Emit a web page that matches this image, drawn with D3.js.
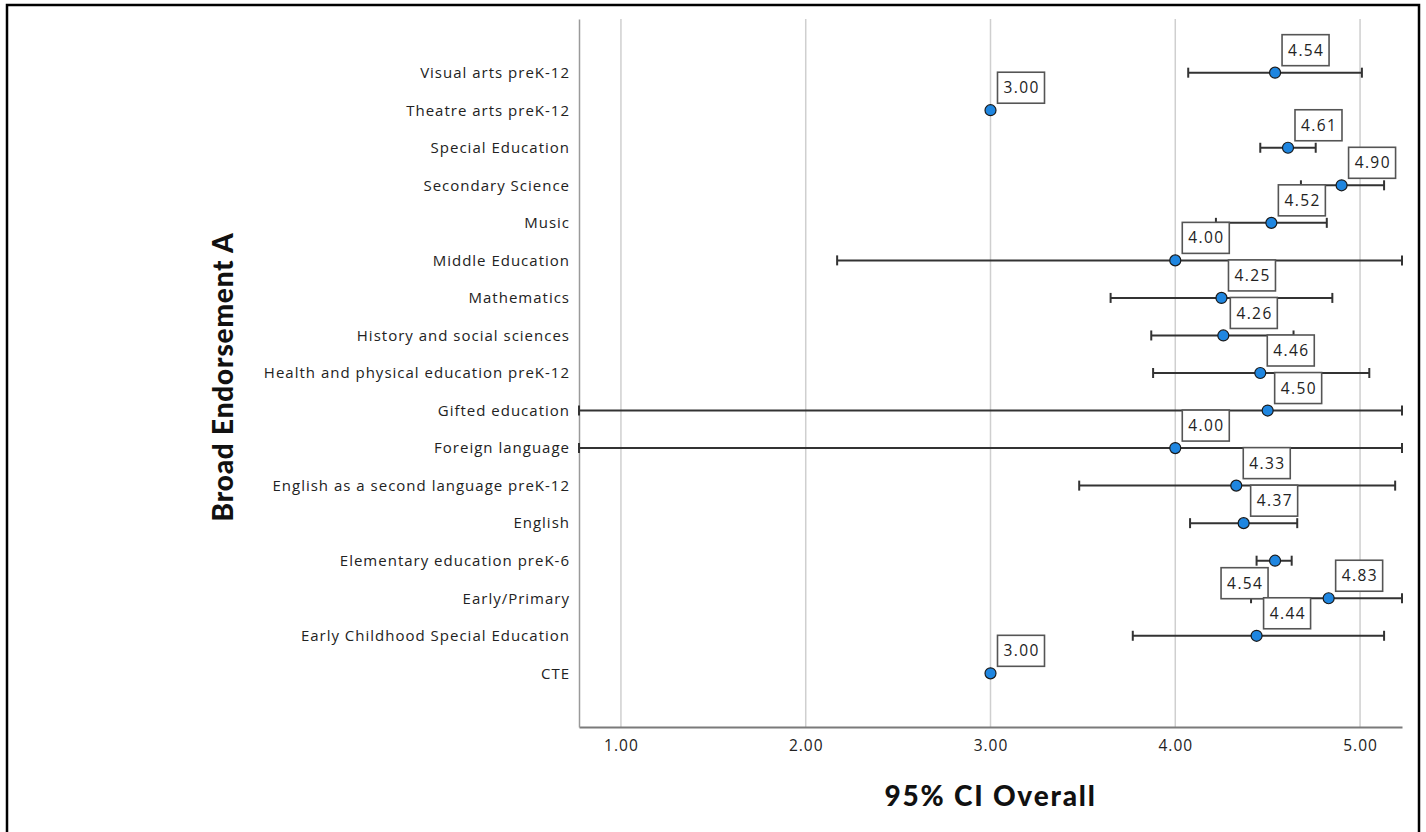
<!DOCTYPE html>
<html>
<head>
<meta charset="utf-8">
<script src="https://cdn.jsdelivr.net/npm/d3@7"></script>
<style>
  html, body { margin: 0; padding: 0; background: #fff; }
  svg { display: block; }
</style>
</head>
<body>
<svg id="chart" width="1426" height="832"></svg>
<script>
// Broad endorsement areas, top to bottom
const categories = [
  "Visual arts preK-12",
  "Theatre arts preK-12",
  "Special Education",
  "Secondary Science",
  "Music",
  "Middle Education",
  "Mathematics",
  "History and social sciences",
  "Health and physical education preK-12",
  "Gifted education",
  "Foreign language",
  "English as a second language preK-12",
  "English",
  "Elementary education preK-6",
  "Early/Primary",
  "Early Childhood Special Education",
  "CTE"
];

// Mean overall score per endorsement
const means = [4.54, 3.00, 4.61, 4.90, 4.52, 4.00, 4.25, 4.26, 4.46, 4.50, 4.00, 4.33, 4.37, 4.54, 4.83, 4.44, 3.00];

// 95% confidence interval bounds (null where a group has a single case)
const ciLower = [4.07, null, 4.46, 4.68, 4.22, 2.17, 3.65, 3.87, 3.88, -1.85, -2.35, 3.48, 4.08, 4.44, 4.41, 3.77, null];
const ciUpper = [5.01, null, 4.76, 5.13, 4.82, 5.83, 4.85, 4.64, 5.05, 10.85, 10.35, 5.19, 4.66, 4.63, 5.25, 5.13, null];

// Axis ticks
const xTicks = [1, 2, 3, 4, 5];
const xDomain = [0.773, 5.227];

// Value labels that sit below-left of their point instead of above-right
const flippedLabels = ["Elementary education preK-6"];

const rows = categories.map((c, i) => ({
  name: c, mean: means[i], lo: ciLower[i], hi: ciUpper[i]
}));

const svg = d3.select("#chart");
const plot = { left: 579, right: 1402, top: 19, bottom: 727 };

// Outer frame
svg.append("rect")
  .attr("x", 7).attr("y", 5)
  .attr("width", 1412).attr("height", 850)
  .attr("fill", "none").attr("stroke", "#000").attr("stroke-width", 2.5);

const x = d3.scaleLinear().domain(xDomain).range([plot.left, plot.right]).clamp(true);
const y = d3.scalePoint().domain(categories).range([plot.top, plot.bottom]).padding(1.43);

const labelFont = "'Open Sans', 'DejaVu Sans', sans-serif";
const titleFont = "Lato, 'Open Sans', sans-serif";

// Vertical grid lines
svg.append("g")
  .selectAll("line")
  .data(xTicks)
  .join("line")
  .attr("x1", d => x(d)).attr("x2", d => x(d))
  .attr("y1", plot.top).attr("y2", plot.bottom)
  .attr("stroke", "#cfcfcf").attr("stroke-width", 1.5);

// X axis
const xAxis = svg.append("g")
  .attr("transform", `translate(0,${plot.bottom})`)
  .call(d3.axisBottom(x).tickValues(xTicks).tickFormat(d3.format(".2f")).tickSize(0).tickPadding(13));
xAxis.select(".domain").attr("stroke", "#7a7a7a").attr("stroke-width", 2);
xAxis.selectAll("text")
  .attr("font-family", labelFont).attr("font-size", 15.5)
  .attr("letter-spacing", "1px").attr("fill", "#222");

// Y axis
const yAxis = svg.append("g")
  .attr("transform", `translate(${plot.left},0)`)
  .call(d3.axisLeft(y).tickSize(0).tickPadding(9));
yAxis.select(".domain").attr("stroke", "#9a9a9a").attr("stroke-width", 1.5);
yAxis.selectAll("text")
  .attr("font-family", labelFont).attr("font-size", 15)
  .attr("letter-spacing", "1px").attr("fill", "#222");

// Axis titles
svg.append("text")
  .attr("x", (plot.left + plot.right) / 2).attr("y", 806)
  .attr("text-anchor", "middle")
  .attr("font-family", titleFont).attr("font-weight", 900).attr("font-size", 28)
  .attr("letter-spacing", "1.8px")
  .attr("fill", "#111")
  .text("95% CI Overall");

svg.append("text")
  .attr("transform", `translate(233,${(plot.top + plot.bottom) / 2 + 4}) rotate(-90)`)
  .attr("text-anchor", "middle")
  .attr("font-family", titleFont).attr("font-weight", 900).attr("font-size", 28)
  .attr("letter-spacing", "0.8px")
  .attr("fill", "#111")
  .text("Broad Endorsement A");

// Error bars
const withCI = rows.filter(d => d.lo !== null && d.hi !== null);
const bars = svg.append("g").attr("stroke", "#333").attr("stroke-width", 2);
bars.selectAll("line.span")
  .data(withCI)
  .join("line")
  .attr("class", "span")
  .attr("x1", d => x(d.lo)).attr("x2", d => x(d.hi))
  .attr("y1", d => y(d.name)).attr("y2", d => y(d.name));
const capHalf = 5;
bars.selectAll("line.capL")
  .data(withCI)
  .join("line")
  .attr("class", "capL")
  .attr("x1", d => x(d.lo)).attr("x2", d => x(d.lo))
  .attr("y1", d => y(d.name) - capHalf).attr("y2", d => y(d.name) + capHalf);
bars.selectAll("line.capR")
  .data(withCI)
  .join("line")
  .attr("class", "capR")
  .attr("x1", d => x(d.hi)).attr("x2", d => x(d.hi))
  .attr("y1", d => y(d.name) - capHalf).attr("y2", d => y(d.name) + capHalf);

// Mean points
svg.append("g")
  .selectAll("circle")
  .data(rows)
  .join("circle")
  .attr("cx", d => x(d.mean)).attr("cy", d => y(d.name))
  .attr("r", 5.5)
  .attr("fill", "#1f86e0")
  .attr("stroke", "#1a1a1a").attr("stroke-width", 1.2);

// Value labels in boxes
const boxW = 47, boxH = 31, gap = 7;
const labels = svg.append("g")
  .selectAll("g")
  .data(rows)
  .join("g")
  .attr("transform", d => {
    const px = x(d.mean), py = y(d.name);
    const flipped = flippedLabels.includes(d.name);
    const bx = flipped ? px - gap - boxW : px + gap;
    const by = flipped ? py + gap : py - gap - boxH;
    return `translate(${bx},${by})`;
  });
labels.append("rect")
  .attr("width", boxW).attr("height", boxH)
  .attr("fill", "#fff")
  .attr("stroke", "#555").attr("stroke-width", 1.6);
labels.append("text")
  .attr("x", boxW / 2 + 0.7).attr("y", boxH / 2)
  .attr("dy", "0.36em")
  .attr("text-anchor", "middle")
  .attr("font-family", labelFont).attr("font-size", 15.5)
  .attr("letter-spacing", "1.4px")
  .attr("fill", "#222")
  .text(d => d3.format(".2f")(d.mean));
</script>
</body>
</html>
